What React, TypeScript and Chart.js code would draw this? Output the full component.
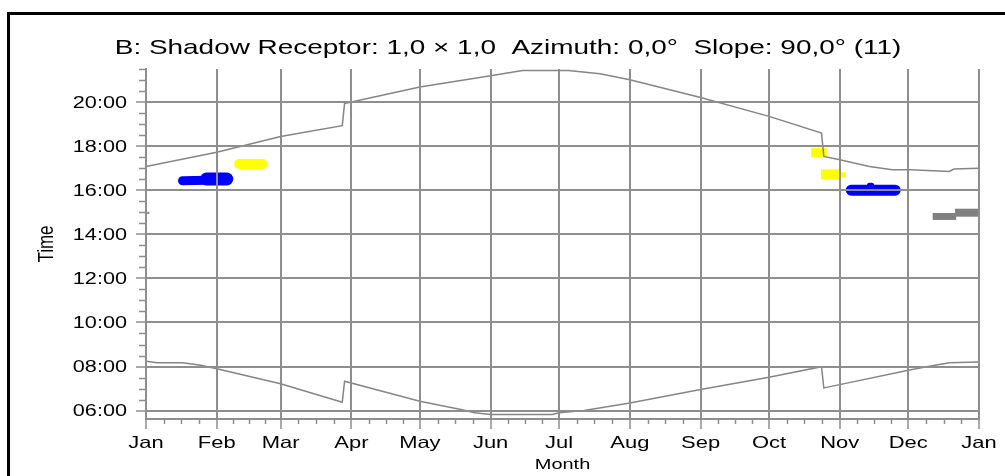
import React, { useEffect, useRef } from "react";
import { Chart, registerables } from "chart.js";

Chart.register(...registerables);

// ---------- data ----------
const MONTH_LABELS = ["Jan", "Feb", "Mar", "Apr", "May", "Jun", "Jul", "Aug", "Sep", "Oct", "Nov", "Dec", "Jan"];
const MONTH_START_DAYS = [0, 31, 59, 90, 120, 151, 181, 212, 243, 273, 304, 334, 365];
const HOUR_TICKS = [6, 8, 10, 12, 14, 16, 18, 20];
const HOUR_MIN = 5.62;
const HOUR_MAX = 21.5;

const TITLE = "B: Shadow Receptor: 1,0 × 1,0  Azimuth: 0,0°  Slope: 90,0° (11)";
const X_TITLE = "Month";
const Y_TITLE = "Time";

// sunset (upper boundary), day of year -> hour
const sunsetDays = [0, 31, 59, 86, 87, 90, 120, 151, 165, 185, 199, 212, 243, 273, 296, 297, 304, 317, 327, 335, 352, 354, 365];
const sunsetHours = [17.08, 17.72, 18.44, 18.93, 19.93, 20.0, 20.68, 21.19, 21.43, 21.43, 21.28, 21.01, 20.21, 19.35, 18.59, 17.53, 17.38, 17.08, 16.93, 16.93, 16.85, 16.96, 17.0];

// sunrise (lower boundary)
const sunriseDays = [0, 5, 16, 24, 31, 59, 86, 87, 120, 138, 144, 151, 178, 181, 192, 212, 243, 273, 296, 297, 304, 334, 342, 352, 365];
const sunriseHours = [8.24, 8.17, 8.17, 8.06, 7.9, 7.22, 6.38, 7.33, 6.43, 6.05, 5.9, 5.82, 5.82, 5.9, 6.01, 6.35, 6.96, 7.51, 7.99, 7.03, 7.18, 7.83, 7.99, 8.17, 8.21];

// shadow periods (flicker blobs)
const blueJanADays = [16, 27];
const blueJanAHours = [16.43, 16.45];
const blueJanBDays = [26.5, 35.4];
const blueJanBHours = [16.51, 16.51];
const yellowFebDays = [40.8, 51.1];
const yellowFebHours = [17.19, 17.19];
const grayJanDays = [1];
const grayJanHours = [14.97];
const yellowOctADays = [291.4, 298.3];
const yellowOctAHours = [17.71, 17.71];
const yellowOctBDays = [295.8, 304.2];
const yellowOctBHours = [16.72, 16.72];
const yellowOctCDays = [304.2, 306.6];
const yellowOctCHours = [16.7, 16.7];
const blueNovDays = [309, 328.3];
const blueNovHours = [16.0, 16.0];
const blueNovBumpDays = [317, 318];
const blueNovBumpHours = [16.22, 16.22];
const grayDecADays = [344.7, 355];
const grayDecAHours = [14.81, 14.81];
const grayDecBDays = [354.5, 365];
const grayDecBHours = [14.98, 14.98];

// ---------- styling ----------
const FONT = "'Liberation Sans', Arial, sans-serif";
const SX = 1.33;
const GRID = "#8e8e8e";
const LINE = "#858585";
const BLUE = "#0000ff";
const YELLOW = "#ffff00";
const GRAY = "#808080";

const pts = (xs: number[], ys: number[]) => xs.map((x, i) => ({ x, y: ys[i] }));

function stretchedText(ctx: CanvasRenderingContext2D, text: string, x: number, y: number, size: number, align: CanvasTextAlign, rotate = false) {
  ctx.save();
  ctx.translate(x, y);
  ctx.scale(SX, 1);
  if (rotate) ctx.rotate(-Math.PI / 2);
  ctx.font = `${size}px ${FONT}`;
  ctx.textAlign = align;
  ctx.textBaseline = "alphabetic";
  ctx.fillStyle = "#000";
  ctx.fillText(text, 0, 0);
  ctx.restore();
}

const decorPlugin = {
  id: "decor",
  afterDraw(chart: any) {
    const ctx: CanvasRenderingContext2D = chart.ctx;
    const xs = chart.scales.x;
    const ys = chart.scales.y;
    const area = chart.chartArea;

    // minor ticks
    ctx.save();
    ctx.strokeStyle = GRID;
    ctx.lineWidth = 1.5;
    ctx.beginPath();
    for (let i = 0; i < MONTH_START_DAYS.length - 1; i++) {
      const a = MONTH_START_DAYS[i];
      const len = MONTH_START_DAYS[i + 1] - a;
      for (let k = 1; k < 4; k++) {
        const px = Math.round(xs.getPixelForValue(a + (len * k) / 4)) + 0.5;
        ctx.moveTo(px, area.bottom);
        ctx.lineTo(px, area.bottom + 5);
      }
    }
    for (let h = 5.5; h <= HOUR_MAX + 0.001; h += 0.5) {
      if (h < HOUR_MIN || h % 2 === 0) continue;
      const py = Math.round(ys.getPixelForValue(h)) + 0.5;
      ctx.moveTo(area.left - 7, py);
      ctx.lineTo(area.left, py);
    }
    ctx.stroke();
    ctx.restore();

    // y tick labels
    const ySize = 16.3;
    HOUR_TICKS.forEach((h) => {
      const py = ys.getPixelForValue(h);
      const label = `${String(h).padStart(2, "0")}:00`;
      stretchedText(ctx, label, area.left - 19, py + 0.358 * ySize, ySize, "right");
    });
    // x tick labels
    MONTH_START_DAYS.forEach((d, i) => {
      const px = xs.getPixelForValue(d);
      stretchedText(ctx, MONTH_LABELS[i], px, area.bottom + 28.5, 16.5, "center");
    });
    // axis titles
    stretchedText(ctx, X_TITLE, (area.left + area.right) / 2, area.bottom + 49.5, 15, "center");
    stretchedText(ctx, Y_TITLE, 52.5, (area.top + area.bottom) / 2, 17, "center", true);
    // chart title
    stretchedText(ctx, TITLE, 508, 53.5, 21, "center");

    // outer frame
    ctx.save();
    ctx.strokeStyle = "#000";
    ctx.lineWidth = 3;
    ctx.strokeRect(8.5, 13.5, 2000, 2000);
    ctx.restore();
  },
};

function blob(xs: number[], ys: number[], color: string, width: number, cap: CanvasLineCap) {
  return {
    data: pts(xs, ys),
    showLine: true,
    borderColor: color,
    backgroundColor: color,
    borderWidth: width,
    borderCapStyle: cap,
    borderJoinStyle: "round",
    pointRadius: 0,
    fill: false,
  };
}

export default function App() {
  const ref = useRef<HTMLCanvasElement | null>(null);

  useEffect(() => {
    if (!ref.current) return;
    const chart = new Chart(ref.current, {
      type: "scatter",
      data: {
        datasets: [
          {
            data: pts(sunsetDays, sunsetHours),
            showLine: true,
            borderColor: LINE,
            borderWidth: 1.5,
            pointRadius: 0,
            tension: 0,
          },
          {
            data: pts(sunriseDays, sunriseHours),
            showLine: true,
            borderColor: LINE,
            borderWidth: 1.5,
            pointRadius: 0,
            tension: 0,
          },
          blob(blueJanADays, blueJanAHours, BLUE, 9, "round"),
          blob(blueJanBDays, blueJanBHours, BLUE, 13, "round"),
          blob(yellowFebDays, yellowFebHours, YELLOW, 10, "round"),
          {
            data: pts(grayJanDays, grayJanHours),
            showLine: false,
            pointStyle: "rect",
            pointRadius: 1.5,
            backgroundColor: GRAY,
            borderColor: GRAY,
            borderWidth: 0,
          },
          blob(yellowOctADays, yellowOctAHours, YELLOW, 9, "butt"),
          blob(yellowOctBDays, yellowOctBHours, YELLOW, 10, "butt"),
          blob(yellowOctCDays, yellowOctCHours, YELLOW, 5, "butt"),
          blob(blueNovDays, blueNovHours, BLUE, 11, "round"),
          blob(blueNovBumpDays, blueNovBumpHours, BLUE, 5, "round"),
          blob(grayDecADays, grayDecAHours, GRAY, 7, "butt"),
          blob(grayDecBDays, grayDecBHours, GRAY, 8, "butt"),
        ] as any,
      },
      options: {
        animation: false,
        responsive: false,
        events: [],
        layout: { padding: { top: 69, right: 26, left: 0, bottom: 0 } },
        plugins: {
          legend: { display: false },
          tooltip: { enabled: false },
          title: { display: false },
        },
        scales: {
          x: {
            type: "linear",
            min: 0,
            max: 365,
            afterBuildTicks: (scale: any) => {
              scale.ticks = MONTH_START_DAYS.map((v) => ({ value: v }));
            },
            afterFit: (scale: any) => {
              scale.height = 57;
            },
            ticks: { display: false },
            grid: { color: GRID, lineWidth: 2, tickLength: 10, tickColor: GRID, tickWidth: 1.5, z: 1 },
            border: { display: true, color: GRID, width: 2, z: 2 },
          },
          y: {
            type: "linear",
            min: HOUR_MIN,
            max: HOUR_MAX,
            afterBuildTicks: (scale: any) => {
              scale.ticks = HOUR_TICKS.map((v) => ({ value: v }));
            },
            afterFit: (scale: any) => {
              scale.width = 146;
            },
            ticks: { display: false },
            grid: { color: GRID, lineWidth: 2, tickLength: 10, tickColor: GRID, tickWidth: 1.5, z: 1 },
            border: { display: true, color: GRID, width: 2, z: 2 },
          },
        },
      } as any,
      plugins: [decorPlugin],
    });
    return () => chart.destroy();
  }, []);

  return (
    <div style={{ position: "fixed", left: 0, top: 0, width: 1005, height: 476, background: "#fff" }}>
      <canvas ref={ref} width={1005} height={476} style={{ display: "block", width: 1005, height: 476 }} />
    </div>
  );
}
